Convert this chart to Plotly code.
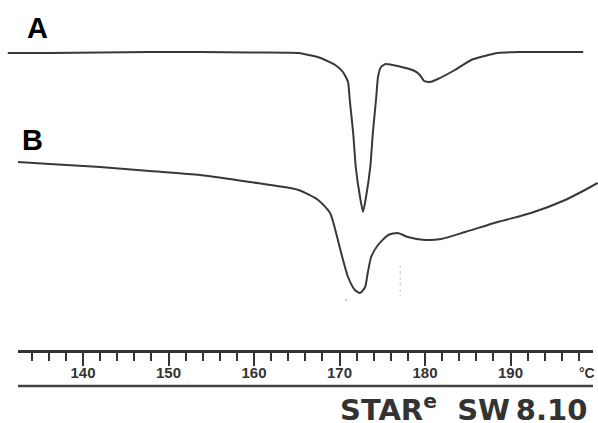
import plotly.graph_objects as go

# ---- data (temperature in °C, heat flow in arbitrary mW units) ----
temp_A = [131.2, 136.1, 142.0, 147.8, 153.7, 159.5, 165.2, 167.8, 169.5, 170.4, 171.0,
          171.2, 171.6, 171.9, 172.4, 172.75, 173.1, 173.6, 173.9, 174.3, 174.5, 174.85,
          175.4, 176.8, 178.8, 179.4, 179.9, 180.6, 181.5, 183.5, 185.4, 187.0, 188.5,
          190.9, 194.6, 198.5]
hf_A = [4.14, 4.14, 4.15, 4.16, 4.16, 4.15, 4.14, 4.04, 3.90, 3.76, 3.56,
        3.20, 2.54, 1.86, 1.26, 0.96, 1.26, 1.86, 2.54, 3.26, 3.66, 3.86,
        3.92, 3.88, 3.78, 3.70, 3.58, 3.56, 3.62, 3.80, 4.00, 4.08, 4.14,
        4.16, 4.16, 4.16]

temp_B = [132.4, 136.1, 142.0, 147.8, 153.7, 159.5, 165.2, 167.5, 168.9, 169.6, 170.2,
          171.0, 171.8, 172.4, 173.0, 173.3, 173.7, 174.5, 175.7, 176.8, 178.0, 180.0,
          181.9, 184.7, 188.5, 192.4, 196.4, 198.7, 200.2]
hf_B = [1.96, 1.92, 1.86, 1.78, 1.70, 1.56, 1.40, 1.20, 0.94, 0.54, 0.14,
        -0.34, -0.60, -0.66, -0.54, -0.26, 0.06, 0.30, 0.50, 0.54, 0.46, 0.40,
        0.42, 0.56, 0.76, 0.94, 1.20, 1.40, 1.54]

marker_T = [177.1, 177.1]
marker_hf = [-0.10, -0.72]
dot_T = [170.8]
dot_hf = [-0.80]

major_ticks = [140, 150, 160, 170, 180, 190]
major_labels = ["140", "150", "160", "170", "180", "190"]
unit_label = "°C"
curve_labels = ["A", "B"]
software_label = "STAR<sup>e</sup>&nbsp;&nbsp;SW\u20098.10"

W, H = 598, 423
x_range = [130.292, 200.234]
x2_range = [132.398, 199.649]
y_range = [-3.26, 5.2]

line_col = "#383838"

fig = go.Figure()
fig.add_trace(go.Scatter(x=temp_A, y=hf_A, mode="lines",
                         line=dict(color=line_col, width=2, shape="spline", smoothing=0.5),
                         showlegend=False, hoverinfo="skip"))
fig.add_trace(go.Scatter(x=temp_B, y=hf_B, mode="lines",
                         line=dict(color=line_col, width=2, shape="spline", smoothing=0.6),
                         showlegend=False, hoverinfo="skip"))
fig.add_trace(go.Scatter(x=marker_T, y=marker_hf, mode="lines",
                         line=dict(color="#c8c8c8", width=1, dash="dot"),
                         showlegend=False, hoverinfo="skip"))
fig.add_trace(go.Scatter(x=dot_T, y=dot_hf, mode="markers",
                         marker=dict(color="#bbbbbb", size=2),
                         showlegend=False, hoverinfo="skip"))
# ruler axis trace (invisible) so that xaxis2 is drawn
fig.add_trace(go.Scatter(x=[x2_range[0], x2_range[1]], y=[0, 0], xaxis="x2", yaxis="y2",
                         mode="lines", line=dict(width=0), opacity=0,
                         showlegend=False, hoverinfo="skip"))

ruler_bottom = (H - 350) / H

fig.update_layout(
    width=W, height=H,
    margin=dict(l=0, r=0, t=0, b=0),
    paper_bgcolor="white", plot_bgcolor="rgba(0,0,0,0)",
    xaxis=dict(domain=[0, 1], range=x_range, visible=False, fixedrange=True),
    yaxis=dict(domain=[0, 1], range=y_range, visible=False, fixedrange=True),
    xaxis2=dict(domain=[18 / W, 593 / W], range=x2_range, anchor="y2",
                showline=True, linecolor="#333333", linewidth=2.5,
                ticks="outside", ticklen=13, tickwidth=2, tickcolor="#333333",
                tickvals=major_ticks, ticktext=major_labels, ticklabelstandoff=-6,
                tickfont=dict(family="Liberation Sans", size=15, color="#333333", weight="bold"),
                showgrid=False, zeroline=False, fixedrange=True,
                minor=dict(ticks="outside", ticklen=8, tickwidth=2, tickcolor="#333333",
                           dtick=2, tick0=0, showgrid=False)),
    yaxis2=dict(domain=[ruler_bottom, ruler_bottom + 0.05], range=[0, 1], visible=False,
                anchor="x2", fixedrange=True),
    shapes=[dict(type="line", xref="paper", yref="paper",
                 x0=18 / W, x1=593 / W, y0=(H - 386) / H, y1=(H - 386) / H,
                 line=dict(color="#444444", width=2.5))],
    annotations=[
        dict(text=curve_labels[0], x=25 / W, y=1 - 28 / H, xref="paper", yref="paper",
             xanchor="left", yanchor="middle", showarrow=False,
             font=dict(family="Liberation Sans", size=29, color="black", weight="bold")),
        dict(text=curve_labels[1], x=20 / W, y=1 - 140 / H, xref="paper", yref="paper",
             xanchor="left", yanchor="middle", showarrow=False,
             font=dict(family="Liberation Sans", size=29, color="black", weight="bold")),
        dict(text=unit_label, x=587 / W, y=1 - 373 / H, xref="paper", yref="paper",
             xanchor="center", yanchor="middle", showarrow=False,
             font=dict(family="Liberation Sans", size=14, color="#333333", weight="bold")),
        dict(text=software_label, x=338 / W, y=1 - 408 / H, xref="paper", yref="paper",
             xanchor="left", yanchor="middle", showarrow=False,
             font=dict(family="DejaVu Sans", size=29, color="#333333", weight="bold")),
    ],
)

fig.write_html("out.html", config={"displayModeBar": False},
               post_script="document.body.style.margin='0';document.body.style.padding='0';")
